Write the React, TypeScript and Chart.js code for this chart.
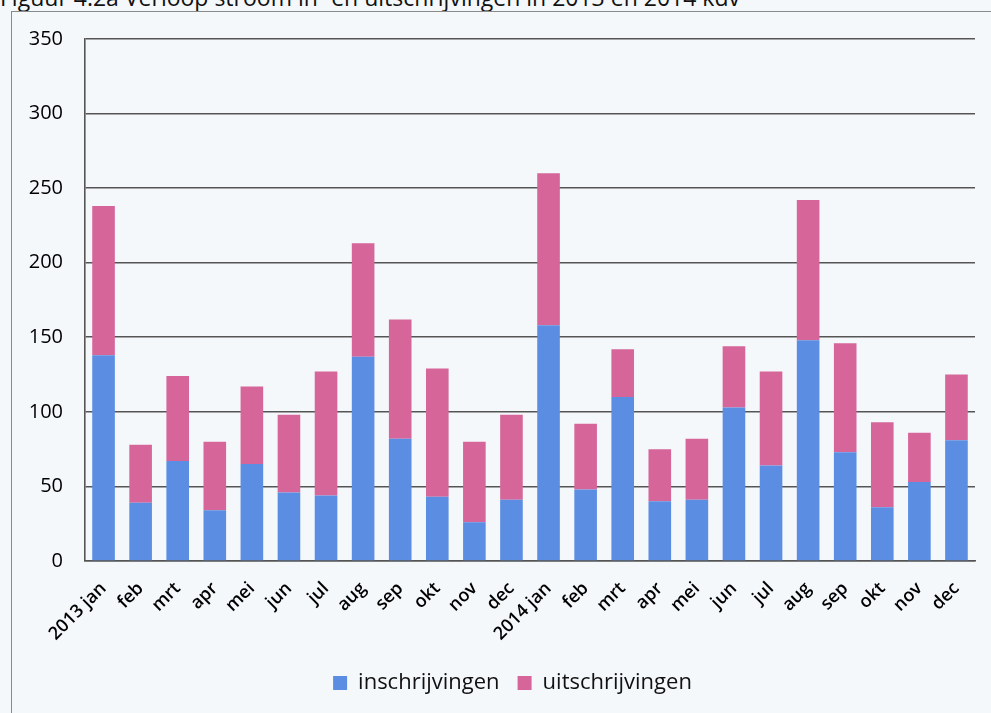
import React, { useEffect, useRef } from "react";
import { Chart, registerables } from "chart.js";

Chart.register(...registerables);

const categories = [
  "2013 jan", "feb", "mrt", "apr", "mei", "jun", "jul", "aug", "sep", "okt", "nov", "dec",
  "2014 jan", "feb", "mrt", "apr", "mei", "jun", "jul", "aug", "sep", "okt", "nov", "dec",
];
const inschrijvingen = [
  138, 39, 67, 34, 65, 46, 44, 137, 82, 43, 26, 41,
  158, 48, 110, 40, 41, 103, 64, 148, 73, 36, 53, 81,
];
const uitschrijvingen = [
  100, 39, 57, 46, 52, 52, 83, 76, 80, 86, 54, 57,
  102, 44, 32, 35, 41, 41, 63, 94, 73, 57, 33, 44,
];
const yTicks = [0, 50, 100, 150, 200, 250, 300, 350];
const title = "Figuur 4.2a Verloop stroom in- en uitschrijvingen in 2013 en 2014 kdv";

const FONT = "'Open Sans', 'DejaVu Sans', sans-serif";

export default function App() {
  const ref = useRef<HTMLCanvasElement | null>(null);

  useEffect(() => {
    if (!ref.current) return;
    const chart = new Chart(ref.current, {
      type: "bar",
      data: {
        labels: categories,
        datasets: [
          {
            label: "inschrijvingen",
            data: inschrijvingen,
            backgroundColor: "#5b8ee3",
            borderWidth: 0,
            barPercentage: 0.61,
            categoryPercentage: 1.0,
          },
          {
            label: "uitschrijvingen",
            data: uitschrijvingen,
            backgroundColor: "#d6669a",
            borderWidth: 0,
            barPercentage: 0.61,
            categoryPercentage: 1.0,
          },
        ],
      },
      options: {
        responsive: false,
        animation: false,
        layout: { padding: { top: 27, right: 16, bottom: 9, left: 0 } },
        plugins: {
          tooltip: { enabled: false },
          legend: {
            position: "bottom",
            labels: {
              font: { family: FONT, size: 22 },
              color: "#111",
              boxWidth: 14,
              boxHeight: 14,
              padding: 18,
            },
          },
        },
        scales: {
          x: {
            stacked: true,
            grid: { display: false, drawTicks: false },
            border: { display: true, color: "#555", width: 1.6 },
            ticks: {
              font: { family: FONT, size: 18, weight: "600" },
              color: "#000",
              maxRotation: 45,
              minRotation: 45,
              autoSkip: false,
              padding: 17,
            },
            afterFit: (scale: any) => {
              scale.height = 93;
            },
          },
          y: {
            stacked: true,
            min: 0,
            max: 350,
            afterBuildTicks: (scale: any) => {
              scale.ticks = yTicks.map((v) => ({ value: v }));
            },
            grid: {
              color: "#555",
              lineWidth: 1.6,
              drawTicks: true,
              tickLength: 22,
              tickColor: "rgba(0,0,0,0)",
            },
            border: { display: true, color: "#555", width: 1.6 },
            ticks: {
              font: { family: FONT, size: 20 },
              color: "#000",
              padding: 0,
            },
            afterFit: (scale: any) => {
              scale.width = 73;
            },
          },
          yR: {
            position: "right",
            display: true,
            grid: { display: false, drawTicks: false },
            border: { display: false },
            ticks: { display: false },
            afterFit: (scale: any) => {
              scale.width = 38;
            },
          },
        },
      },
    });
    return () => chart.destroy();
  }, []);

  return (
    <div
      style={{
        position: "fixed",
        left: 0,
        top: 0,
        width: 991,
        height: 713,
        overflow: "hidden",
        background: "#f4f8fb",
      }}
    >
      <div
        style={{
          position: "absolute",
          left: 0,
          top: -14.4,
          fontFamily: FONT,
          fontSize: 23,
          lineHeight: "23px",
          color: "#111",
          whiteSpace: "nowrap",
        }}
      >
        {title}
      </div>
      <div
        style={{
          position: "absolute",
          left: 11,
          top: 11,
          width: 1040,
          height: 720,
          border: "1px solid #8a8a8a",
          boxSizing: "border-box",
        }}
      />
      <canvas
        ref={ref}
        width={1017}
        height={701}
        style={{ position: "absolute", left: 12, top: 12, width: 1017, height: 701 }}
      />
    </div>
  );
}
